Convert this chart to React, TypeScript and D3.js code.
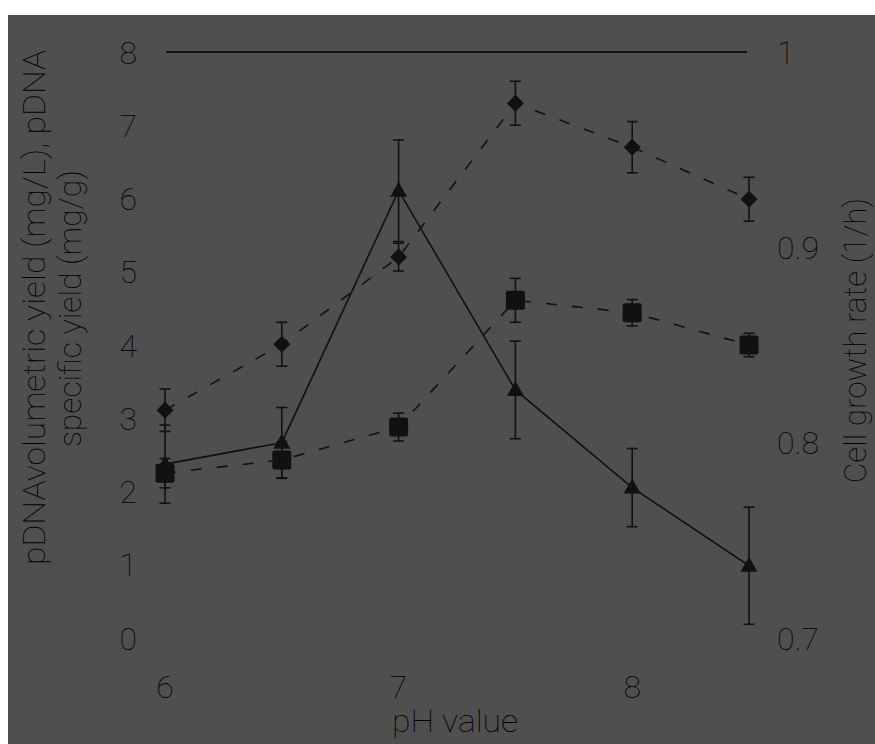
import React from "react";
import * as d3 from "d3";

const phValues = [6, 6.5, 7, 7.5, 8, 8.5];
const volumetricYield = [3.11, 4.01, 5.2, 7.3, 6.7, 5.99];
const volumetricErr = [0.29, 0.3, 0.19, 0.3, 0.35, 0.3];
const specificYield = [2.25, 2.43, 2.88, 4.61, 4.44, 4.0];
const specificErr = [0.2, 0.25, 0.19, 0.3, 0.18, 0.16];
const growthRate = [0.789, 0.8, 0.929, 0.827, 0.777, 0.737];
const growthErr = [0.02, 0.018, 0.026, 0.025, 0.02, 0.03];

const leftTicks = [0, 1, 2, 3, 4, 5, 6, 7, 8];
const rightTicks = [0.7, 0.8, 0.9, 1.0];
const bottomTicks = [6, 7, 8];

const W = 875;
const H = 744;
const FONT = "Roboto, 'Liberation Sans', Arial, sans-serif";
const INK = "#111";
const TEXT_INK = "#000";

export default function App() {
  const x = d3.scaleLinear().domain([6, 8.5]).range([165, 749]);
  const yL = d3.scaleLinear().domain([0, 8]).range([638, 52]);
  const yR = d3.scaleLinear().domain([0.7, 1.0]).range([638, 52]);

  const lineL = d3
    .line<number>()
    .x((_, i) => x(phValues[i]))
    .y((d) => yL(d));
  const lineR = d3
    .line<number>()
    .x((_, i) => x(phValues[i]))
    .y((d) => yR(d));

  const errBars = (vals: number[], errs: number[], sc: (v: number) => number, key: string) =>
    vals.map((v, i) => {
      const cx = x(phValues[i]);
      const t = sc(v + errs[i]);
      const b = sc(v - errs[i]);
      return (
        <g key={key + i} stroke={INK} strokeWidth={1.6}>
          <line x1={cx} x2={cx} y1={t} y2={b} />
          <line x1={cx - 5.5} x2={cx + 5.5} y1={t} y2={t} />
          <line x1={cx - 5.5} x2={cx + 5.5} y1={b} y2={b} />
        </g>
      );
    });

  const textStyle: React.CSSProperties = { fontFamily: FONT, fontWeight: 100 };

  return (
    <div style={{ position: "fixed", left: 0, top: 0 }}>
      <svg width={W} height={H} style={{ display: "block" }}>
        <rect x={0} y={0} width={W} height={H} fill="#ffffff" />
        <rect x={8} y={15} width={W - 8} height={H - 15} fill="#4f4f4f" />

        {/* top frame line */}
        <line x1={166} x2={747} y1={yL(8)} y2={yL(8)} stroke={INK} strokeWidth={2} />

        {/* tick labels */}
        <g style={textStyle} fill={TEXT_INK} fontSize={32}>
          {leftTicks.map((t) => (
            <text key={"l" + t} x={137} y={yL(t) + 11.5} textAnchor="end">
              {t}
            </text>
          ))}
          {rightTicks.map((t) => (
            <text key={"r" + t} x={777} y={yR(t) + 11.5} textAnchor="start">
              {d3.format("~g")(t)}
            </text>
          ))}
          {bottomTicks.map((t) => (
            <text key={"b" + t} x={x(t)} y={698} textAnchor="middle">
              {t}
            </text>
          ))}
        </g>

        {/* axis titles */}
        <g style={textStyle} fill={TEXT_INK} fontSize={31}>
          <text
            transform="translate(45,307.5) rotate(-90)"
            textAnchor="middle"
            textLength={515}
            lengthAdjust="spacingAndGlyphs"
          >
            pDNAvolumetric yield (mg/L), pDNA
          </text>
          <text
            transform="translate(81,308.5) rotate(-90)"
            textAnchor="middle"
            textLength={277}
            lengthAdjust="spacingAndGlyphs"
          >
            specific yield (mg/g)
          </text>
          <text
            transform="translate(866,340.5) rotate(-90)"
            textAnchor="middle"
            textLength={285}
            lengthAdjust="spacingAndGlyphs"
          >
            Cell growth rate (1/h)
          </text>
          <text x={455} y={732} textAnchor="middle" textLength={126} lengthAdjust="spacingAndGlyphs">
            pH value
          </text>
        </g>

        {/* error bars */}
        {errBars(volumetricYield, volumetricErr, yL, "ve")}
        {errBars(specificYield, specificErr, yL, "se")}
        {errBars(growthRate, growthErr, yR, "ge")}

        {/* lines */}
        <path d={lineL(volumetricYield) || ""} fill="none" stroke={INK} strokeWidth={1.6} strokeDasharray="11 15" />
        <path d={lineL(specificYield) || ""} fill="none" stroke={INK} strokeWidth={1.6} strokeDasharray="11 15" />
        <path d={lineR(growthRate) || ""} fill="none" stroke={INK} strokeWidth={1.6} />

        {/* markers */}
        {volumetricYield.map((v, i) => {
          const cx = x(phValues[i]);
          const cy = yL(v);
          const r = 8.5;
          return (
            <path
              key={"vd" + i}
              d={`M${cx},${cy - r}L${cx + r},${cy}L${cx},${cy + r}L${cx - r},${cy}Z`}
              fill={INK}
            />
          );
        })}
        {specificYield.map((v, i) => {
          const cx = x(phValues[i]);
          const cy = yL(v);
          return <rect key={"sq" + i} x={cx - 9.5} y={cy - 9.5} width={19} height={19} rx={2} fill={INK} />;
        })}
        {growthRate.map((v, i) => {
          const cx = x(phValues[i]);
          const cy = yR(v);
          return (
            <path
              key={"tr" + i}
              d={`M${cx},${cy - 9}L${cx + 8.5},${cy + 6}L${cx - 8.5},${cy + 6}Z`}
              fill={INK}
            />
          );
        })}
      </svg>
    </div>
  );
}
